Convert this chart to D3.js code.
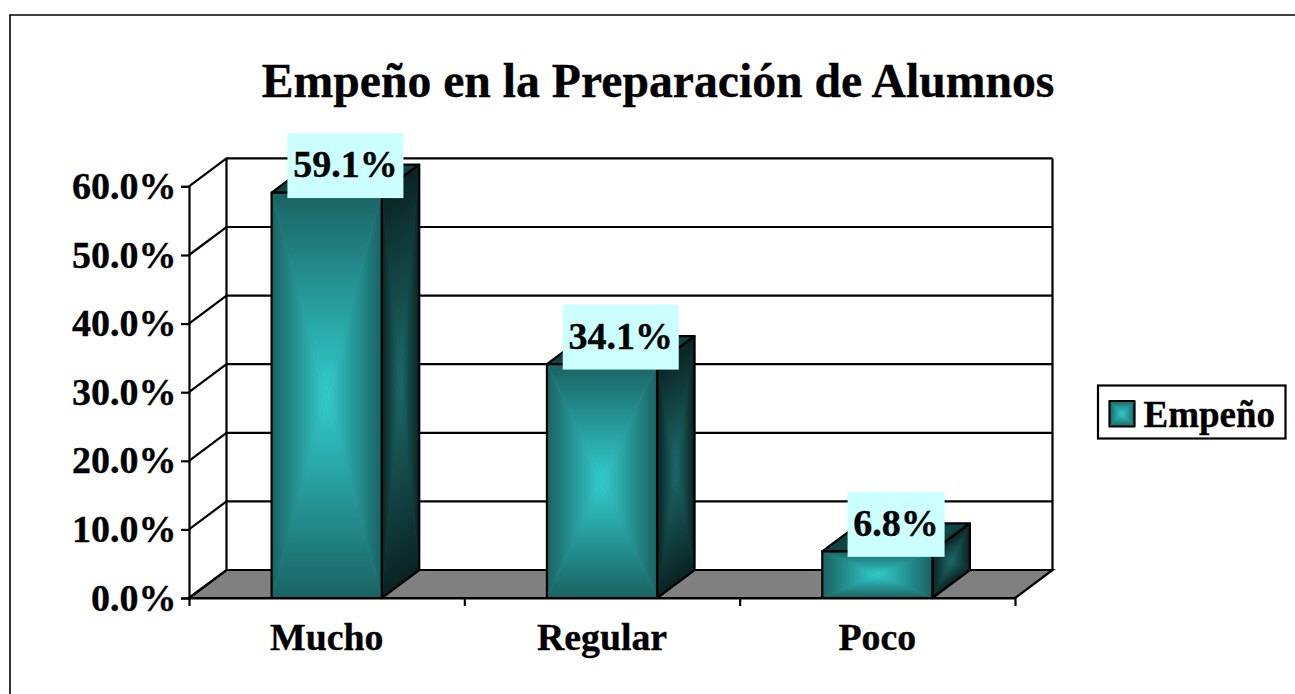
<!DOCTYPE html>
<html><head><meta charset="utf-8">
<script src="https://cdn.jsdelivr.net/npm/d3@7"></script>
<style>html,body{margin:0;padding:0;background:#fff;overflow:hidden}svg{display:block}text{font-family:"Liberation Serif","Times New Roman",serif;font-weight:bold;fill:#000;stroke:#000;stroke-width:.35px}</style>
</head><body><svg id="c" width="1295" height="694"></svg>
<script>
const chartTitle = "Empeño en la Preparación de Alumnos";
const categories = ["Mucho", "Regular", "Poco"];
const values = [59.1, 34.1, 6.8];
const valueLabels = ["59.1%", "34.1%", "6.8%"];
const yTicks = [0, 10, 20, 30, 40, 50, 60];
const seriesName = "Empeño";

const svg = d3.select("#c");
const defs = svg.append("defs");
const X0 = 189, X1 = 1015, Y0 = 598, Y60 = 186.4, DX = 37.5, DY = 28;
const x = d3.scaleBand().domain(categories).range([X0, X1]).paddingInner(0.6).paddingOuter(0.3);
const y = d3.scaleLinear().domain([0, 60]).range([Y0, Y60]);
const LW = 2.2;

function grads(id, inner, outer) {
  const dirs = {l:[0,0,1,0], r:[1,0,0,0], t:[0,0,0,1], b:[0,1,0,0]};
  Object.entries(dirs).forEach(([k, d]) => {
    const g = defs.append("linearGradient").attr("id", id + k)
      .attr("x1", d[0]).attr("y1", d[1]).attr("x2", d[2]).attr("y2", d[3]);
    g.append("stop").attr("offset", 0).attr("stop-color", outer);
    g.append("stop").attr("offset", 1).attr("stop-color", inner);
  });
}
grads("front", "#33CCCC", "#1A6262");
grads("side", "#1D6A6A", "#0A2222");
grads("top", "#1C6666", "#0F3C3C");
grads("sw", "#33CCCC", "#1A6666");

function face(g, o, u, v, id, mid) {
  const t = g.append("g").attr("transform", `matrix(${u[0]},${u[1]},${v[0]},${v[1]},${o[0]},${o[1]})`);
  t.append("rect").attr("width", 1).attr("height", 1).attr("fill", mid);
  [["l","0,0 .5,.5 0,1"],["r","1,0 .5,.5 1,1"],["t","0,0 .5,.5 1,0"],["b","0,1 .5,.5 1,1"]].forEach(([k, p]) =>
    t.append("polygon").attr("points", p).attr("fill", `url(#${id}${k})`));
  g.append("polygon")
    .attr("points", [o, [o[0]+u[0],o[1]+u[1]], [o[0]+u[0]+v[0],o[1]+u[1]+v[1]], [o[0]+v[0],o[1]+v[1]]].map(String).join(" "))
    .attr("fill", "none").attr("stroke", "#000").attr("stroke-width", LW).attr("stroke-linejoin", "round");
}

// outer frame
svg.append("path").attr("d", "M10,694V15H1295").attr("fill", "none").attr("stroke", "#000").attr("stroke-width", 1.6);

// title
svg.append("text").attr("x", 658).attr("y", 97).attr("text-anchor", "middle").style("font-size", "47.7px").text(chartTitle);

// floor
svg.append("polygon").attr("points", [[X0,Y0],[X0+DX,Y0-DY],[X1+DX,Y0-DY],[X1,Y0]].map(String).join(" "))
  .attr("fill", "#808080").attr("stroke", "#000").attr("stroke-width", LW);

// walls and gridlines
const wall = svg.append("g").attr("fill", "none").attr("stroke", "#000").attr("stroke-width", LW);
yTicks.forEach(t => {
  wall.append("path").attr("d", `M${X0},${y(t)}L${X0+DX},${y(t)-DY}L${X1+DX},${y(t)-DY}`);
});
wall.append("path").attr("d", `M${X0+DX},${y(60)-DY}V${Y0-DY}M${X1+DX},${y(60)-DY}V${Y0-DY}`);

// axes
const yAxis = svg.append("g").attr("transform", `translate(${X0},0)`)
  .call(d3.axisLeft(y).tickValues(yTicks).tickSizeOuter(0).tickSize(8).tickPadding(6).tickFormat(d => d.toFixed(1) + "%"));
const catX = d3.scalePoint().domain(d3.range(categories.length + 1)).range([X0, X1]);
const xAxis = svg.append("g").attr("transform", `translate(0,${Y0})`)
  .call(d3.axisBottom(catX).tickSize(8).tickSizeOuter(0).tickFormat(""));
svg.selectAll(".domain,.tick line").attr("stroke", "#000").attr("stroke-width", LW);
yAxis.selectAll("text").attr("x", -12.5).attr("dy", "0.32em").style("font-size", "38px").attr("fill", "#000");

// category labels
svg.append("g").selectAll("text").data(categories).join("text")
  .attr("x", d => x(d) + x.bandwidth()/2).attr("y", 650).attr("text-anchor", "middle")
  .style("font-size", "37.8px").text(d => d);

// bars
categories.forEach((c, i) => {
  const g = svg.append("g");
  const l = x(c), w = x.bandwidth(), top = y(values[i]), h = Y0 - top;
  face(g, [l, top], [DX, -DY], [w, 0], "top", "#174f4f");
  face(g, [l + w, top], [DX, -DY], [0, h], "side", "#124545");
  face(g, [l, top], [w, 0], [0, h], "front", "#269999");
});

// value labels
categories.forEach((c, i) => {
  const cx = x(c) + x.bandwidth()/2 + DX/2, cy = y(values[i]) - DY + 1;
  const t = svg.append("text").attr("x", cx).attr("y", cy + 11.5).attr("text-anchor", "middle")
    .style("font-size", "38px").text(valueLabels[i]);
  const bw = t.node().getComputedTextLength() + 11.5, bh = 65;
  svg.insert("rect", () => t.node()).attr("x", cx - bw/2).attr("y", cy - bh/2).attr("width", bw).attr("height", bh).attr("fill", "#CCFFFF");
});

// legend
const lg = svg.append("g");
lg.append("rect").attr("x", 1098).attr("y", 385.5).attr("width", 187.5).attr("height", 53).attr("fill", "#fff").attr("stroke", "#000").attr("stroke-width", LW);
face(lg, [1109.5, 401], [25, 0], [0, 25.5], "sw", "#269999");
lg.append("text").attr("x", 1143.5).attr("y", 427).style("font-size", "37px").text(seriesName);
</script></body></html>
